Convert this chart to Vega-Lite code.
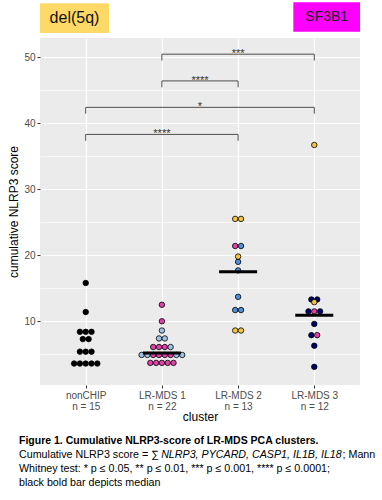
{
 "$schema": "https://vega.github.io/schema/vega-lite/v6.json",
 "width": 320,
 "height": 347,
 "autosize": {"type": "none"},
 "padding": {"left": 40, "top": 38, "right": 22, "bottom": 115},
 "background": "white",
 "config": {
  "view": {"fill": "#EBEBEB", "stroke": null},
  "font": "Liberation Sans",
  "axis": {"domain": false, "tickColor": "#333333", "tickSize": 3, "tickWidth": 1, "labelColor": "#4D4D4D", "labelFontSize": 10, "labelFont": "Liberation Sans", "titleFont": "Liberation Sans", "titleFontSize": 12, "titleFontWeight": "normal", "titleColor": "#000000", "gridColor": "#FFFFFF", "gridWidth": 1.2, "gridOpacity": 1}
 },
 "datasets": {
  "dots": [
   {"cluster": "nonCHIP", "score": 15.8, "type": "nonCHIP"},
   {"cluster": "nonCHIP", "score": 11.4, "type": "nonCHIP"},
   {"cluster": "nonCHIP", "score": 8.4, "type": "nonCHIP"},
   {"cluster": "nonCHIP", "score": 8.4, "type": "nonCHIP"},
   {"cluster": "nonCHIP", "score": 8.4, "type": "nonCHIP"},
   {"cluster": "nonCHIP", "score": 7.3, "type": "nonCHIP"},
   {"cluster": "nonCHIP", "score": 7.3, "type": "nonCHIP"},
   {"cluster": "nonCHIP", "score": 5.4, "type": "nonCHIP"},
   {"cluster": "nonCHIP", "score": 5.4, "type": "nonCHIP"},
   {"cluster": "nonCHIP", "score": 5.4, "type": "nonCHIP"},
   {"cluster": "nonCHIP", "score": 3.6, "type": "nonCHIP"},
   {"cluster": "nonCHIP", "score": 3.6, "type": "nonCHIP"},
   {"cluster": "nonCHIP", "score": 3.6, "type": "nonCHIP"},
   {"cluster": "nonCHIP", "score": 3.6, "type": "nonCHIP"},
   {"cluster": "nonCHIP", "score": 3.6, "type": "nonCHIP"},
   {"cluster": "LR-MDS 1", "score": 12.5, "type": "SF3B1"},
   {"cluster": "LR-MDS 1", "score": 10.0, "type": "SF3B1"},
   {"cluster": "LR-MDS 1", "score": 8.6, "type": "other1"},
   {"cluster": "LR-MDS 1", "score": 7.4, "type": "other1"},
   {"cluster": "LR-MDS 1", "score": 7.4, "type": "other1"},
   {"cluster": "LR-MDS 1", "score": 6.1, "type": "SF3B1"},
   {"cluster": "LR-MDS 1", "score": 6.1, "type": "SF3B1"},
   {"cluster": "LR-MDS 1", "score": 6.1, "type": "SF3B1"},
   {"cluster": "LR-MDS 1", "score": 6.1, "type": "other1"},
   {"cluster": "LR-MDS 1", "score": 4.9, "type": "other1"},
   {"cluster": "LR-MDS 1", "score": 4.9, "type": "other1"},
   {"cluster": "LR-MDS 1", "score": 4.9, "type": "SF3B1"},
   {"cluster": "LR-MDS 1", "score": 4.9, "type": "SF3B1"},
   {"cluster": "LR-MDS 1", "score": 4.9, "type": "SF3B1"},
   {"cluster": "LR-MDS 1", "score": 4.9, "type": "SF3B1"},
   {"cluster": "LR-MDS 1", "score": 4.9, "type": "other1"},
   {"cluster": "LR-MDS 1", "score": 4.9, "type": "other1"},
   {"cluster": "LR-MDS 1", "score": 3.7, "type": "SF3B1"},
   {"cluster": "LR-MDS 1", "score": 3.7, "type": "SF3B1"},
   {"cluster": "LR-MDS 1", "score": 3.7, "type": "SF3B1"},
   {"cluster": "LR-MDS 1", "score": 3.7, "type": "SF3B1"},
   {"cluster": "LR-MDS 1", "score": 3.7, "type": "SF3B1"},
   {"cluster": "LR-MDS 2", "score": 25.5, "type": "del(5q)"},
   {"cluster": "LR-MDS 2", "score": 25.5, "type": "del(5q)"},
   {"cluster": "LR-MDS 2", "score": 21.4, "type": "SF3B1"},
   {"cluster": "LR-MDS 2", "score": 21.4, "type": "other2"},
   {"cluster": "LR-MDS 2", "score": 19.0, "type": "other2"},
   {"cluster": "LR-MDS 2", "score": 19.8, "type": "del(5q)"},
   {"cluster": "LR-MDS 2", "score": 17.7, "type": "other2"},
   {"cluster": "LR-MDS 2", "score": 13.7, "type": "other2"},
   {"cluster": "LR-MDS 2", "score": 11.7, "type": "other2"},
   {"cluster": "LR-MDS 2", "score": 11.7, "type": "other2"},
   {"cluster": "LR-MDS 2", "score": 8.6, "type": "del(5q)"},
   {"cluster": "LR-MDS 2", "score": 8.6, "type": "del(5q)"},
   {"cluster": "LR-MDS 3", "score": 36.7, "type": "del(5q)"},
   {"cluster": "LR-MDS 3", "score": 13.3, "type": "other3"},
   {"cluster": "LR-MDS 3", "score": 13.3, "type": "other3"},
   {"cluster": "LR-MDS 3", "score": 12.9, "type": "del(5q)"},
   {"cluster": "LR-MDS 3", "score": 11.5, "type": "other3"},
   {"cluster": "LR-MDS 3", "score": 11.5, "type": "SF3B1"},
   {"cluster": "LR-MDS 3", "score": 11.5, "type": "other3"},
   {"cluster": "LR-MDS 3", "score": 9.6, "type": "other3"},
   {"cluster": "LR-MDS 3", "score": 7.9, "type": "other3"},
   {"cluster": "LR-MDS 3", "score": 7.9, "type": "SF3B1"},
   {"cluster": "LR-MDS 3", "score": 6.3, "type": "other3"},
   {"cluster": "LR-MDS 3", "score": 3.1, "type": "other3"}
  ],
  "medians": [
   {"cluster": "LR-MDS 1", "median": 5.2},
   {"cluster": "LR-MDS 2", "median": 17.5},
   {"cluster": "LR-MDS 3", "median": 10.9}
  ],
  "tests": [
   {"from": "nonCHIP", "to": "LR-MDS 2", "y": 38.3, "label": "****"},
   {"from": "nonCHIP", "to": "LR-MDS 3", "y": 42.4, "label": "*"},
   {"from": "LR-MDS 1", "to": "LR-MDS 2", "y": 46.4, "label": "****"},
   {"from": "LR-MDS 1", "to": "LR-MDS 3", "y": 50.45, "label": "***"}
  ]
 },
 "resolve": {"axis": {"y": "independent"}},
 "layer": [
  {
   "layer": [
    {
     "data": {"name": "dots"},
     "transform": [
      {"calculate": "indexof(['nonCHIP','LR-MDS 1','LR-MDS 2','LR-MDS 3'], datum.cluster) + 1", "as": "xi"},
      {"window": [{"op": "row_number", "as": "k"}], "groupby": ["cluster", "score"]},
      {"joinaggregate": [{"op": "count", "as": "n"}], "groupby": ["cluster", "score"]},
      {"calculate": "datum.xi + (datum.k - (datum.n + 1) / 2) * 0.0761", "as": "px"}
     ],
     "mark": {"type": "circle", "size": 30, "stroke": "#000000", "strokeWidth": 0.8, "opacity": 1},
     "encoding": {
      "x": {"field": "px", "type": "quantitative", "title": "cluster",
       "scale": {"domain": [0.4, 4.6], "nice": false, "zero": false},
       "axis": {"values": [1, 2, 3, 4], "labelFlush": false, "labelOverlap": false, "labelPadding": 2, "labelLineHeight": 11, "titlePadding": 0,
        "labelExpr": "datum.value == 1 ? ['nonCHIP', 'n = 15'] : datum.value == 2 ? ['LR-MDS 1', 'n = 22'] : datum.value == 3 ? ['LR-MDS 2', 'n = 13'] : ['LR-MDS 3', 'n = 12']"}},
      "y": {"field": "score", "type": "quantitative", "title": "cumulative NLRP3 score",
       "scale": {"domain": [0.35, 52.9], "nice": false, "zero": false},
       "axis": {"values": [10, 20, 30, 40, 50], "labelPadding": 2, "titlePadding": 3, "labelOverlap": false, "labelFlush": false}},
      "color": {"field": "type", "type": "nominal", "legend": null,
       "scale": {"domain": ["nonCHIP", "SF3B1", "del(5q)", "other1", "other2", "other3"],
        "range": ["#000000", "#E040A8", "#F4C542", "#9DC3E6", "#4F8FD8", "#000066"]}}
     }
    },
    {
     "data": {"name": "tests"},
     "transform": [
      {"calculate": "indexof(['nonCHIP','LR-MDS 1','LR-MDS 2','LR-MDS 3'], datum.from) + 1", "as": "fx"},
      {"calculate": "indexof(['nonCHIP','LR-MDS 1','LR-MDS 2','LR-MDS 3'], datum.to) + 1", "as": "tx"},
      {"calculate": "(datum.fx + datum.tx) / 2", "as": "mid"},
      {"calculate": "datum.y - 0.97", "as": "tip"}
     ],
     "layer": [
      {"mark": {"type": "rule", "color": "#4D4D4D", "strokeWidth": 1},
       "encoding": {"x": {"field": "fx", "type": "quantitative", "title": "cluster"}, "x2": {"field": "tx"}, "y": {"field": "y", "type": "quantitative", "title": "cumulative NLRP3 score"}}},
      {"mark": {"type": "rule", "color": "#4D4D4D", "strokeWidth": 1},
       "encoding": {"x": {"field": "fx", "type": "quantitative", "title": "cluster"}, "y": {"field": "y", "type": "quantitative", "title": "cumulative NLRP3 score"}, "y2": {"field": "tip"}}},
      {"mark": {"type": "rule", "color": "#4D4D4D", "strokeWidth": 1},
       "encoding": {"x": {"field": "tx", "type": "quantitative", "title": "cluster"}, "y": {"field": "y", "type": "quantitative", "title": "cumulative NLRP3 score"}, "y2": {"field": "tip"}}},
      {"mark": {"type": "text", "fontSize": 11, "color": "#333333", "baseline": "alphabetic", "dy": 2.7, "font": "Liberation Sans"},
       "encoding": {"x": {"field": "mid", "type": "quantitative", "title": "cluster"}, "y": {"field": "y", "type": "quantitative", "title": "cumulative NLRP3 score"}, "text": {"field": "label"}}}
     ]
    },
    {
     "data": {"values": [{"label": "del(5q)"}]},
     "layer": [
      {"mark": {"type": "rect", "color": "#FFD966"},
       "encoding": {"x": {"datum": 0.4, "type": "quantitative"}, "x2": {"datum": 1.3055}, "y": {"datum": 58.15, "type": "quantitative"}, "y2": {"datum": 53.66}}},
      {"mark": {"type": "text", "fontSize": 16, "color": "#111111", "font": "Liberation Sans"},
       "encoding": {"x": {"datum": 0.853, "type": "quantitative"}, "y": {"datum": 55.93, "type": "quantitative"}, "text": {"field": "label"}}}
     ]
    },
    {
     "data": {"values": [{"label": "SF3B1"}]},
     "layer": [
      {"mark": {"type": "rect", "color": "#FF00FF"},
       "encoding": {"x": {"datum": 3.725, "type": "quantitative"}, "x2": {"datum": 4.6}, "y": {"datum": 58.3, "type": "quantitative"}, "y2": {"datum": 53.85}}},
      {"mark": {"type": "text", "fontSize": 14, "color": "#222222", "font": "Liberation Sans"},
       "encoding": {"x": {"datum": 4.163, "type": "quantitative"}, "y": {"datum": 56.08, "type": "quantitative"}, "text": {"field": "label"}}}
     ]
    },
    {
     "data": {"values": [{"t": "Figure 1. Cumulative NLRP3-score of LR-MDS PCA clusters."}]},
     "mark": {"type": "text", "align": "left", "baseline": "middle", "fontSize": 10.5, "fontWeight": "bold", "color": "#000000", "font": "Liberation Sans"},
     "encoding": {"x": {"datum": 0.1244, "type": "quantitative"}, "y": {"datum": -8.13, "type": "quantitative"}, "text": {"field": "t"}}
    },
    {
     "data": {"values": [{"t": "Cumulative NLRP3 score = ∑"}]},
     "mark": {"type": "text", "align": "left", "baseline": "middle", "fontSize": 10.7, "color": "#000000", "font": "Liberation Sans"},
     "encoding": {"x": {"datum": 0.1244, "type": "quantitative"}, "y": {"datum": -10.25, "type": "quantitative"}, "text": {"field": "t"}}
    },
    {
     "data": {"values": [{"t": "NLRP3, PYCARD, CASP1, IL1B, IL18"}]},
     "mark": {"type": "text", "align": "left", "baseline": "middle", "fontSize": 10.7, "fontStyle": "italic", "color": "#000000", "font": "Liberation Sans"},
     "encoding": {"x": {"datum": 1.99, "type": "quantitative"}, "y": {"datum": -10.25, "type": "quantitative"}, "text": {"field": "t"}}
    },
    {
     "data": {"values": [{"t": "; Mann"}]},
     "mark": {"type": "text", "align": "right", "baseline": "middle", "fontSize": 10.7, "color": "#000000", "font": "Liberation Sans"},
     "encoding": {"x": {"datum": 4.80, "type": "quantitative"}, "y": {"datum": -10.25, "type": "quantitative"}, "text": {"field": "t"}}
    },
    {
     "data": {"values": [{"t": "Whitney test: * p ≤ 0.05, ** p ≤ 0.01, *** p ≤ 0.001, **** p ≤ 0.0001;"}]},
     "mark": {"type": "text", "align": "left", "baseline": "middle", "fontSize": 10.7, "color": "#000000", "font": "Liberation Sans"},
     "encoding": {"x": {"datum": 0.1244, "type": "quantitative"}, "y": {"datum": -12.37, "type": "quantitative"}, "text": {"field": "t"}}
    },
    {
     "data": {"values": [{"t": "black bold bar depicts median"}]},
     "mark": {"type": "text", "align": "left", "baseline": "middle", "fontSize": 10.7, "color": "#000000", "font": "Liberation Sans"},
     "encoding": {"x": {"datum": 0.1244, "type": "quantitative"}, "y": {"datum": -14.49, "type": "quantitative"}, "text": {"field": "t"}}
    }
   ]
  },
  {
   "data": {"name": "medians"},
   "transform": [
    {"calculate": "indexof(['nonCHIP','LR-MDS 1','LR-MDS 2','LR-MDS 3'], datum.cluster) + 1", "as": "xi"}
   ],
   "mark": {"type": "tick", "orient": "horizontal", "size": 38, "thickness": 3, "color": "#000000", "opacity": 1},
   "encoding": {
    "x": {"field": "xi", "type": "quantitative", "title": "cluster"},
    "y": {"field": "median", "type": "quantitative", "title": null,
     "axis": {"orient": "right", "values": [5, 15, 25, 35, 45], "grid": true, "gridWidth": 0.6, "labels": false, "ticks": false, "domain": false, "title": null}}
   }
  }
 ]
}
